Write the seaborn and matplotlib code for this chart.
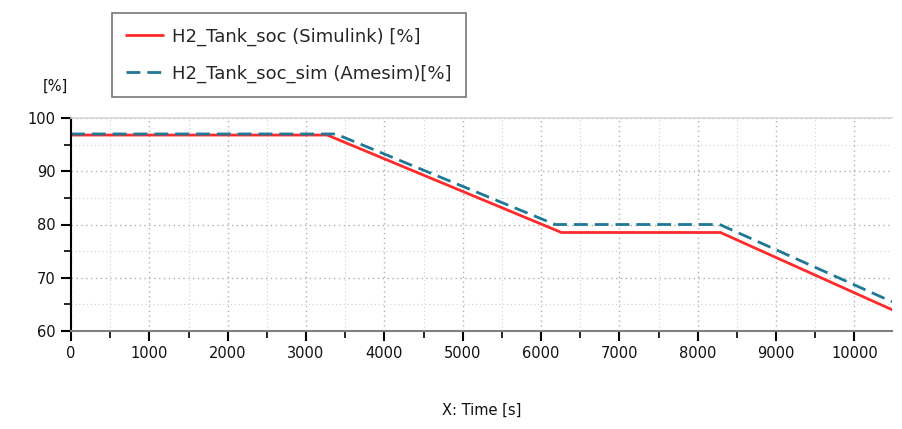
import numpy as np
import pandas as pd
import matplotlib
matplotlib.use("Agg")
import matplotlib.pyplot as plt
from matplotlib.ticker import MultipleLocator
import seaborn as sns

# Tank state-of-charge breakpoints (time in s, soc in %)
time_simulink = [0, 3270, 6260, 8290, 10480]
soc_simulink = [96.8, 96.8, 78.5, 78.5, 64.0]

time_amesim = [0, 3380, 6180, 8280, 10480]
soc_amesim = [97.0, 97.0, 80.0, 80.0, 65.5]

label_simulink = "H2_Tank_soc (Simulink) [%]"
label_amesim = "H2_Tank_soc_sim (Amesim)[%]"

df = pd.concat([
    pd.DataFrame({"time": time_simulink, "soc": soc_simulink, "series": label_simulink}),
    pd.DataFrame({"time": time_amesim, "soc": soc_amesim, "series": label_amesim}),
])

sns.set_theme(style="ticks")
plt.rcParams["font.family"] = ["DejaVu Sans"]

fig = plt.figure(figsize=(9.03, 4.29), dpi=100)
ax = fig.add_axes([71 / 903, 1 - 331 / 429, (892 - 71) / 903, (331 - 118) / 429])

palette = {label_simulink: "#ff2a2a", label_amesim: "#1f7896"}
dashes = {label_simulink: "", label_amesim: (5, 2.5)}
sns.lineplot(data=df, x="time", y="soc", hue="series", style="series",
             palette=palette, dashes=dashes, sort=False, estimator=None,
             linewidth=2.0, ax=ax, legend=True)

ax.set_xlim(0, 10480)
ax.set_ylim(60, 100)
ax.xaxis.set_major_locator(MultipleLocator(1000))
ax.xaxis.set_minor_locator(MultipleLocator(500))
ax.yaxis.set_major_locator(MultipleLocator(10))
ax.yaxis.set_minor_locator(MultipleLocator(5))

ax.grid(which="major", color="#b0b0b0", linestyle=(0, (1, 2.5)), linewidth=1.0)
ax.grid(which="minor", color="#d0d0d0", linestyle=(0, (1, 2.5)), linewidth=0.8)
ax.set_axisbelow(True)

ax.spines["right"].set_visible(False)
ax.spines["top"].set_visible(True)
ax.spines["top"].set_color("#d8d8d8")
ax.spines["top"].set_linewidth(1.2)
ax.spines["left"].set_color("black")
ax.spines["left"].set_linewidth(1.5)
ax.spines["bottom"].set_color("#808080")
ax.spines["bottom"].set_linewidth(1.5)

ax.tick_params(axis="both", which="both", bottom=True, left=True, top=False, right=False)
ax.tick_params(axis="both", which="major", direction="out", length=7, width=1.5,
               color="black", labelsize=10.5, labelcolor="#111111")
ax.tick_params(axis="both", which="minor", direction="out", length=5, width=1.2,
               color="black")
ax.tick_params(axis="x", which="major", pad=4)
ax.tick_params(axis="y", which="major", pad=4)

ax.set_xlabel("X: Time [s]", fontsize=10.5, labelpad=30, color="#111111")
ax.set_ylabel("")
fig.text(55 / 903, 1 - 86 / 429, "[%]", ha="center", va="center", fontsize=10.5, color="#111111")

handles, labels = ax.get_legend_handles_labels()
ax.legend(handles, labels, loc="upper left", bbox_to_anchor=(112 / 903, 1 - 13 / 429),
          bbox_transform=fig.transFigure, frameon=True, fancybox=False,
          edgecolor="#555555", fontsize=13, handlelength=2.0, handletextpad=0.5,
          borderpad=0.8, labelspacing=1.05, borderaxespad=0)
leg = ax.get_legend()
leg.get_frame().set_linewidth(1.2)

fig.savefig("out.png", dpi=100)
